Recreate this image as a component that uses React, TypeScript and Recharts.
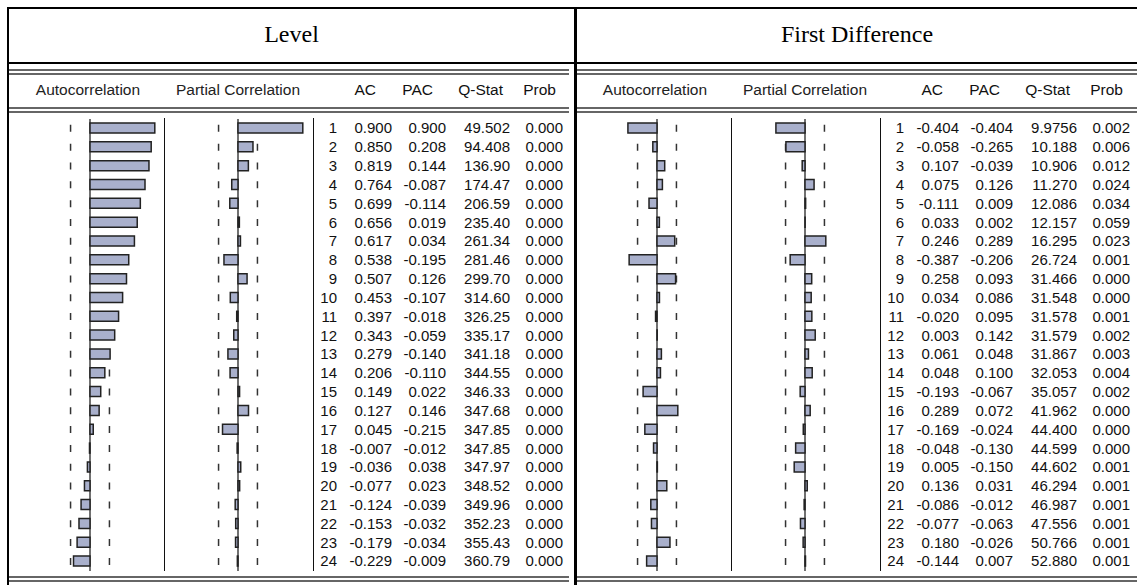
import React from "react";
import { BarChart, Bar, XAxis, YAxis, ReferenceLine } from "recharts";

// lags 1..24
const lags = [1, 2, 3, 4, 5, 6, 7, 8, 9, 10, 11, 12, 13, 14, 15, 16, 17, 18, 19, 20, 21, 22, 23, 24];

// Level
const levelAC = [0.9, 0.85, 0.819, 0.764, 0.699, 0.656, 0.617, 0.538, 0.507, 0.453, 0.397, 0.343, 0.279, 0.206, 0.149, 0.127, 0.045, -0.007, -0.036, -0.077, -0.124, -0.153, -0.179, -0.229];
const levelPAC = [0.9, 0.208, 0.144, -0.087, -0.114, 0.019, 0.034, -0.195, 0.126, -0.107, -0.018, -0.059, -0.14, -0.11, 0.022, 0.146, -0.215, -0.012, 0.038, 0.023, -0.039, -0.032, -0.034, -0.009];
const levelQ = ["49.502", "94.408", "136.90", "174.47", "206.59", "235.40", "261.34", "281.46", "299.70", "314.60", "326.25", "335.17", "341.18", "344.55", "346.33", "347.68", "347.85", "347.85", "347.97", "348.52", "349.96", "352.23", "355.43", "360.79"];
const levelProb = [0, 0, 0, 0, 0, 0, 0, 0, 0, 0, 0, 0, 0, 0, 0, 0, 0, 0, 0, 0, 0, 0, 0, 0];

// First difference
const diffAC = [-0.404, -0.058, 0.107, 0.075, -0.111, 0.033, 0.246, -0.387, 0.258, 0.034, -0.02, 0.003, 0.061, 0.048, -0.193, 0.289, -0.169, -0.048, 0.005, 0.136, -0.086, -0.077, 0.18, -0.144];
const diffPAC = [-0.404, -0.265, -0.039, 0.126, 0.009, 0.002, 0.289, -0.206, 0.093, 0.086, 0.095, 0.142, 0.048, 0.1, -0.067, 0.072, -0.024, -0.13, -0.15, 0.031, -0.012, -0.063, -0.026, 0.007];
const diffQ = ["9.9756", "10.188", "10.906", "11.270", "12.086", "12.157", "16.295", "26.724", "31.466", "31.548", "31.578", "31.579", "31.867", "32.053", "35.057", "41.962", "44.400", "44.599", "44.602", "46.294", "46.987", "47.556", "50.766", "52.880"];
const diffProb = [0.002, 0.006, 0.012, 0.024, 0.034, 0.059, 0.023, 0.001, 0.0, 0.0, 0.001, 0.002, 0.003, 0.004, 0.002, 0.0, 0.0, 0.0, 0.001, 0.001, 0.001, 0.001, 0.001, 0.001];

const levelBound = 0.27;
const diffBound = 0.27;

const ROW_H = 18.83;
const TOP = 119.4;
const CHART_W = 144;
const CHART_H = ROW_H * 24;
const SANS = "'Liberation Sans', Arial, sans-serif";

function Correlogram({ values, bound, left }: { values: number[]; bound: number; left: number }) {
  const data = lags.map((lag, i) => ({ lag, v: values[i] }));
  const m = { top: 0, right: 0, bottom: 0, left: 0 };
  return (
    <>
      {/* bounds + zero line underneath */}
      <div style={{ position: "absolute", left, top: TOP }}>
        <BarChart width={CHART_W} height={CHART_H} data={data} layout="vertical" margin={m}>
          <XAxis type="number" domain={[-1, 1]} hide />
          <YAxis type="category" dataKey="lag" hide />
          <Bar dataKey="v" fill="none" stroke="none" barSize={10} isAnimationActive={false} />
          <ReferenceLine x={-bound} stroke="#333" strokeWidth={1.5} strokeDasharray="0 6 7 5.83" />
          <ReferenceLine x={bound} stroke="#333" strokeWidth={1.5} strokeDasharray="0 6 7 5.83" />
          <ReferenceLine x={0} stroke="#111" strokeWidth={1.2} />
        </BarChart>
      </div>
      {/* bars on top */}
      <div style={{ position: "absolute", left, top: TOP }}>
        <BarChart width={CHART_W} height={CHART_H} data={data} layout="vertical" margin={m}>
          <XAxis type="number" domain={[-1, 1]} hide />
          <YAxis type="category" dataKey="lag" hide />
          <Bar
            dataKey="v"
            fill="#a9b0cc"
            stroke="#222"
            strokeWidth={1.5}
            barSize={10}
            isAnimationActive={false}
          />
        </BarChart>
      </div>
    </>
  );
}

function HLine({ x, y, w, h = 2, color = "#666" }: { x: number; y: number; w: number; h?: number; color?: string }) {
  return <div style={{ position: "absolute", left: x, top: y, width: w, height: h, background: color }} />;
}

function Txt({ right, y, children, size = 15 }: { right: number; y: number; children: React.ReactNode; size?: number }) {
  return (
    <div
      style={{
        position: "absolute",
        left: right - 90,
        width: 90,
        top: y,
        height: ROW_H,
        lineHeight: `${ROW_H}px`,
        textAlign: "right",
        fontFamily: SANS,
        fontSize: size,
        color: "#111",
        whiteSpace: "nowrap",
      }}
    >
      {children}
    </div>
  );
}

function Panel({
  dx,
  ac,
  pac,
  q,
  prob,
  bound,
  lineEnd,
}: {
  dx: number;
  ac: number[];
  pac: number[];
  q: string[];
  prob: number[];
  bound: number;
  lineEnd: number;
}) {
  const lineStart = dx === 0 ? 9 : 577;
  const headY = 81;
  const head = { position: "absolute" as const, top: headY, height: ROW_H, lineHeight: `${ROW_H}px`, textAlign: "center" as const, fontFamily: SANS, fontSize: 15.5, color: "#222", whiteSpace: "nowrap" as const };
  return (
    <>
      <HLine x={lineStart} y={69} w={lineEnd - lineStart} />
      <HLine x={lineStart} y={73} w={lineEnd - lineStart} />
      <div style={{ ...head, left: dx + 18, width: 140 }}>Autocorrelation</div>
      <div style={{ ...head, left: dx + 158, width: 160 }}>Partial Correlation</div>
      <Txt right={dx + 376} y={headY} size={15.5}>AC</Txt>
      <Txt right={dx + 433} y={headY} size={15.5}>PAC</Txt>
      <Txt right={dx + 503} y={headY} size={15.5}>Q-Stat</Txt>
      <Txt right={dx + 556} y={headY} size={15.5}>Prob</Txt>
      <HLine x={lineStart} y={107} w={lineEnd - lineStart} />
      <HLine x={lineStart} y={111} w={lineEnd - lineStart} />

      <HLine x={dx + 164} y={118} w={1} h={453} color="#111" />
      <HLine x={dx + 313} y={118} w={1} h={453} color="#111" />

      <Correlogram values={ac} bound={bound} left={dx + 17.5} />
      <Correlogram values={pac} bound={bound} left={dx + 166} />

      {lags.map((lag, i) => {
        const y = TOP + i * ROW_H;
        return (
          <React.Fragment key={lag}>
            <Txt right={dx + 337} y={y}>{lag}</Txt>
            <Txt right={dx + 392} y={y}>{ac[i].toFixed(3)}</Txt>
            <Txt right={dx + 446} y={y}>{pac[i].toFixed(3)}</Txt>
            <Txt right={dx + 510} y={y}>{q[i]}</Txt>
            <Txt right={dx + 563} y={y}>{prob[i].toFixed(3)}</Txt>
          </React.Fragment>
        );
      })}

      <HLine x={lineStart} y={576} w={lineEnd - lineStart} />
      <HLine x={lineStart} y={580} w={lineEnd - lineStart} />
    </>
  );
}

export default function App() {
  return (
    <div style={{ position: "relative", width: 1137, height: 585, overflow: "hidden", background: "#fff" }}>
      <style>{"body{margin:0;overflow:hidden}"}</style>
      {/* outer frame + title row */}
      <HLine x={7} y={7} w={1130} h={2} color="#000" />
      <HLine x={7} y={62} w={1130} h={2} color="#000" />
      <HLine x={7} y={7} w={2} h={578} color="#000" />
      <HLine x={574} y={7} w={3} h={578} color="#000" />
      <div style={{ position: "absolute", left: 9, width: 565, top: 21, textAlign: "center", fontFamily: "'Liberation Serif', 'Times New Roman', serif", fontSize: 24, color: "#000" }}>
        Level
      </div>
      <div style={{ position: "absolute", left: 577, width: 560, top: 21, textAlign: "center", fontFamily: "'Liberation Serif', 'Times New Roman', serif", fontSize: 24, color: "#000" }}>
        First Difference
      </div>

      <Panel dx={0} ac={levelAC} pac={levelPAC} q={levelQ} prob={levelProb} bound={levelBound} lineEnd={569} />
      <Panel dx={567} ac={diffAC} pac={diffPAC} q={diffQ} prob={diffProb} bound={diffBound} lineEnd={1137} />
    </div>
  );
}
